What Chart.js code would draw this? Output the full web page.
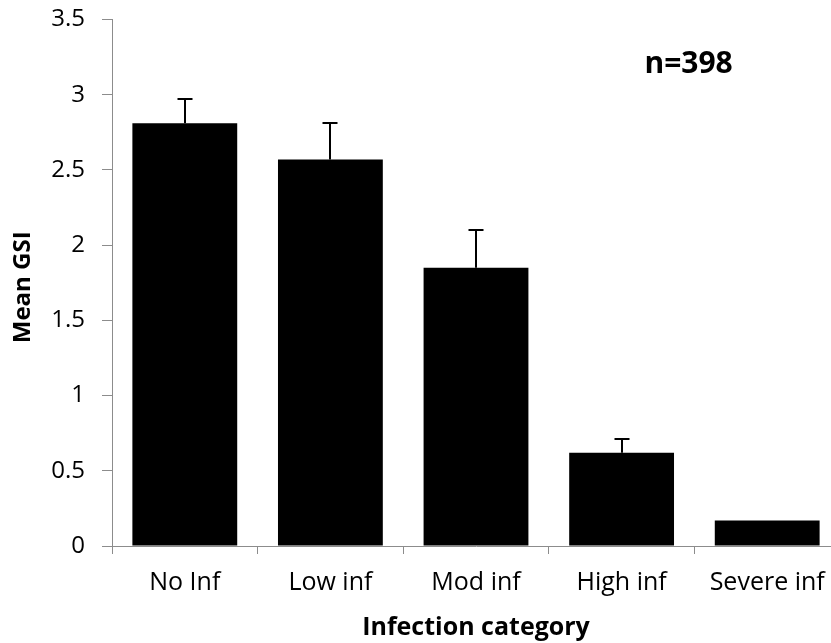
<!DOCTYPE html>
<html>
<head>
<meta charset="utf-8">
<script src="https://cdn.jsdelivr.net/npm/chart.js@4"></script>
<style>
html,body{margin:0;padding:0;background:#fff;overflow:hidden;}
#wrap{width:840px;height:643px;}
</style>
</head>
<body>
<div id="wrap"><canvas id="c" width="840" height="643"></canvas></div>
<script>
const categories = ["No Inf", "Low inf", "Mod inf", "High inf", "Severe inf"];
const meanGSI = [2.81, 2.57, 1.85, 0.62, 0.17];
const errorPlus = [0.16, 0.24, 0.25, 0.09, 0.0];
const yTicks = [0, 0.5, 1, 1.5, 2, 2.5, 3, 3.5];
const annotationText = "n=398";
const yTitleText = "Mean GSI";
const xTitleText = "Infection category";

const FONT = "'Open Sans', 'Liberation Sans', sans-serif";
const AXIS_GRAY = "#8c8c8c";

const errorBarPlugin = {
  id: "errorBars",
  afterDatasetsDraw(chart) {
    const ctx = chart.ctx;
    const meta = chart.getDatasetMeta(0);
    const yScale = chart.scales.y;
    const xScale = chart.scales.x;
    ctx.save();
    ctx.strokeStyle = "#000";
    ctx.lineWidth = 2;
    meta.data.forEach((bar, i) => {
      const err = errorPlus[i];
      if (!err) return;
      const x = Math.round(bar.x);
      const yTop = Math.round(yScale.getPixelForValue(meanGSI[i] + err));
      const yBase = yScale.getPixelForValue(meanGSI[i]);
      ctx.beginPath();
      ctx.moveTo(x, yBase);
      ctx.lineTo(x, yTop);
      ctx.moveTo(x - 7.5, yTop);
      ctx.lineTo(x + 7.5, yTop);
      ctx.stroke();
    });
    // n annotation
    ctx.fillStyle = "#000";
    ctx.font = "bold 30px " + FONT;
    ctx.textAlign = "center";
    ctx.textBaseline = "middle";
    ctx.fillText(annotationText, xScale.getPixelForValue(3.46), yScale.getPixelForValue(3.2));
    // y axis title
    ctx.save();
    ctx.translate(23, yScale.getPixelForValue(1.72));
    ctx.rotate(-Math.PI / 2);
    ctx.font = "bold 24px " + FONT;
    ctx.fillText(yTitleText, 0, 0);
    ctx.restore();
    ctx.restore();
  }
};

new Chart(document.getElementById("c"), {
  type: "bar",
  data: {
    labels: categories,
    datasets: [{
      data: meanGSI,
      backgroundColor: "#000",
      borderColor: "#000",
      borderWidth: 0,
      barPercentage: 0.72,
      categoryPercentage: 1.0
    }]
  },
  options: {
    responsive: false,
    animation: false,
    layout: { padding: { top: 19.5, right: 0, left: 0, bottom: 0 } },
    plugins: { legend: { display: false }, tooltip: { enabled: false } },
    scales: {
      x: {
        offset: true,
        grid: { display: true, offset: true, drawOnChartArea: false, drawTicks: true, tickLength: 8, color: AXIS_GRAY, lineWidth: 1 },
        border: { display: true, color: AXIS_GRAY, width: 1 },
        ticks: { color: "#000", font: { family: FONT, size: 25 }, padding: 14, maxRotation: 0, autoSkip: false },
        title: { display: true, text: xTitleText, color: "#000", font: { family: FONT, size: 25, weight: "bold" }, padding: { top: 0, bottom: 0 } },
        afterFit(scale) { scale.height = 97; scale.paddingLeft = 0; scale.paddingRight = 0; }
      },
      y: {
        min: 0, max: 3.5,
        afterBuildTicks(scale) { scale.ticks = yTicks.map(v => ({ value: v })); },
        grid: { display: true, drawOnChartArea: false, drawTicks: true, tickLength: 10, color: AXIS_GRAY, lineWidth: 1 },
        border: { display: true, color: AXIS_GRAY, width: 1 },
        ticks: { color: "#000", font: { family: FONT, size: 24 }, padding: 17, callback: v => String(v) },
        title: { display: false },
        afterFit(scale) { scale.width = 112; scale.paddingTop = 0; scale.paddingBottom = 0; }
      }
    }
  },
  plugins: [errorBarPlugin]
});
</script>
</body>
</html>
